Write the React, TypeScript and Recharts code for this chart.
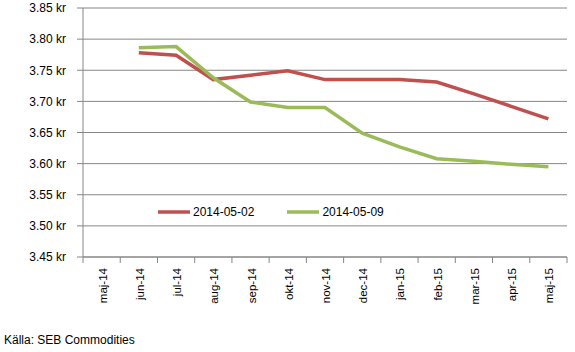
import { LineChart, Line, XAxis, YAxis, CartesianGrid, Legend } from "recharts";

const manader = ["maj-14", "jun-14", "jul-14", "aug-14", "sep-14", "okt-14", "nov-14", "dec-14", "jan-15", "feb-15", "mar-15", "apr-15", "maj-15"];
const serie0502 = [null, 3.778, 3.774, 3.735, 3.742, 3.749, 3.735, 3.735, 3.735, 3.731, 3.712, 3.692, 3.672];
const serie0509 = [null, 3.786, 3.788, 3.738, 3.699, 3.69, 3.69, 3.649, 3.627, 3.608, 3.604, 3.599, 3.595];
const yTicks = [3.45, 3.5, 3.55, 3.6, 3.65, 3.7, 3.75, 3.8, 3.85];

const data = manader.map((m, i) => ({ manad: m, a: serie0502[i], b: serie0509[i] }));

const W = 575;
const H = 352;
const marg = { top: 8, right: 8, left: 0, bottom: 45 };
const yAxisW = 83;
const bandW = (W - marg.left - marg.right - yAxisW) / manader.length;
const axisColor = "#868686";
const font = "'Liberation Sans', Arial, sans-serif";

function MonthTick(props: any) {
  const { x, y, payload, index } = props;
  const axisY = y - 8;
  const left = x - bandW / 2;
  const right = x + bandW / 2;
  return (
    <g>
      <line x1={left} x2={left} y1={axisY} y2={axisY + 6} stroke={axisColor} />
      {index === manader.length - 1 && (
        <line x1={right} x2={right} y1={axisY} y2={axisY + 6} stroke={axisColor} />
      )}
      <text
        x={x + 1}
        y={y + 3}
        transform={`rotate(-90, ${x + 1}, ${y + 3})`}
        textAnchor="end"
        dominantBaseline="central"
        fontSize={11.5}
        fontFamily={font}
        fill="#000"
      >
        {payload.value}
      </text>
    </g>
  );
}

function Forklaring() {
  const items = [
    { name: "2014-05-02", color: "#C0504D" },
    { name: "2014-05-09", color: "#9BBB59" },
  ];
  return (
    <div style={{ display: "flex", fontFamily: font, fontSize: 12, color: "#000" }}>
      {items.map((it) => (
        <div key={it.name} style={{ display: "flex", alignItems: "center", marginRight: 33 }}>
          <svg width={35} height={14}>
            <line x1={0} x2={32} y1={7} y2={7} stroke={it.color} strokeWidth={3.5} />
          </svg>
          <span>{it.name}</span>
        </div>
      ))}
    </div>
  );
}

export default function App() {
  return (
    <div style={{ position: "absolute", left: 0, top: 0, width: W, height: H, background: "#fff" }}>
      <LineChart width={W} height={H} data={data} margin={marg}>
        <CartesianGrid vertical={false} stroke={axisColor} strokeDasharray="" />
        <XAxis
          dataKey="manad"
          scale="band"
          interval={0}
          height={50}
          tickSize={6}
          tickMargin={2}
          tickLine={false}
          axisLine={{ stroke: axisColor }}
          tick={<MonthTick />}
        />
        <YAxis
          width={yAxisW}
          domain={[3.45, 3.85]}
          ticks={yTicks}
          interval={0}
          tickSize={6}
          tickMargin={11}
          axisLine={{ stroke: axisColor }}
          tickLine={{ stroke: axisColor }}
          tickFormatter={(v: number) => v.toFixed(2) + " kr"}
          tick={{ fontSize: 12, fontFamily: font, fill: "#000" }}
        />
        <Legend
          layout="horizontal"
          verticalAlign="middle"
          align="center"
          content={<Forklaring />}
          wrapperStyle={{ position: "absolute", left: 158, top: 205, width: "auto" }}
        />
        <Line dataKey="a" name="2014-05-02" stroke="#C0504D" strokeWidth={3.5} dot={false} isAnimationActive={false} />
        <Line dataKey="b" name="2014-05-09" stroke="#9BBB59" strokeWidth={3.5} dot={false} isAnimationActive={false} />
      </LineChart>
      <div style={{ position: "absolute", left: 4, top: 333, fontFamily: font, fontSize: 12, lineHeight: "14px", color: "#000" }}>
        Källa: SEB Commodities
      </div>
    </div>
  );
}
